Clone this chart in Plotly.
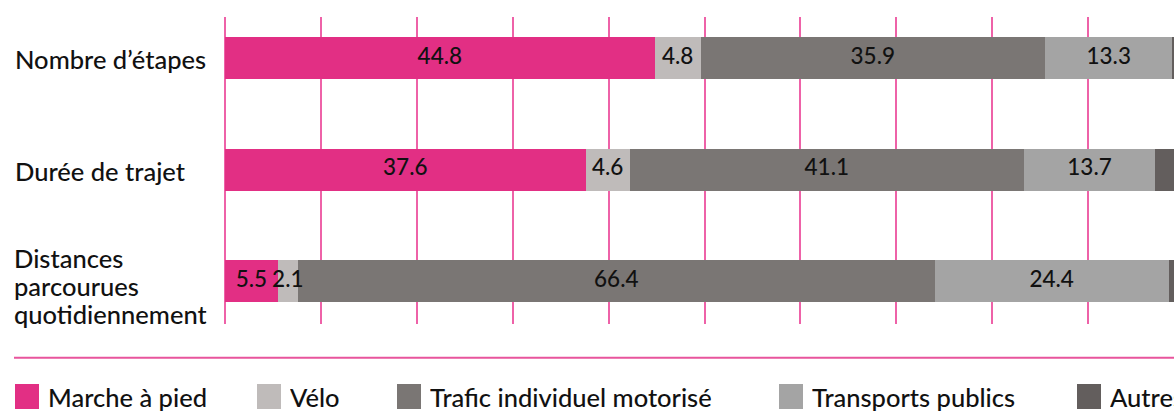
import numpy as np
import plotly.graph_objects as go

# ---- data ----
categories = ["Nombre d’étapes", "Durée de trajet", "Distances parcourues quotidiennement"]
category_labels = ["Nombre d’étapes", "Durée de trajet", "Distances<br>parcourues<br>quotidiennement"]
series_names = ["Marche à pied", "Vélo", "Trafic individuel motorisé", "Transports publics", "Autres"]
marche = [44.8, 37.6, 5.5]
velo = [4.8, 4.6, 2.1]
trafic = [35.9, 41.1, 66.4]
transports = [13.3, 13.7, 24.4]
autres = [1.2, 3.0, 1.6]
series_values = [marche, velo, trafic, transports, autres]

# ---- styles ----
colors = ["#E22F84", "#BFBBBA", "#7A7674", "#A4A4A4", "#635E5D"]
show_text = [True, True, True, True, False]
FONT = "Lato"
WEIGHT = 500
LABEL_SIZE = 25.5
W, H = 1174, 412
L, R, T, B = 225, 0, 17, 88
pw, ph = W - L - R, H - T - B


def px_x(p):
    return (p - L) / pw


def px_y(p):
    return (H - B - p) / ph


fig = go.Figure()
for name, vals, col in zip(series_names, series_values, colors):
    fig.add_trace(go.Bar(
        y=categories, x=vals, name=name, orientation="h",
        marker=dict(color=col, line=dict(width=0)),
        width=0.377,
        showlegend=False,
        cliponaxis=True,
        hovertemplate="%{y}<br>" + name + ": %{x:.1f}<extra></extra>",
    ))

# value labels drawn on top of all bars, centred in each segment
cum = np.zeros(len(categories))
for vals, st in zip(series_values, show_text):
    v = np.array(vals, dtype=float)
    mids = cum + v / 2
    cum = cum + v
    if not st:
        continue
    fig.add_trace(go.Scatter(
        x=mids, y=categories, mode="text",
        text=[f"{x:.1f}" for x in v],
        textposition="middle center",
        textfont=dict(family=FONT, size=22.5, color="#111111", weight=WEIGHT),
        showlegend=False, hoverinfo="skip", cliponaxis=True,
    ))

annotations = []
LINE_H = 28
for cat, lab in zip(categories, category_labels):
    lines = lab.split("<br>")
    n = len(lines)
    if n == 1:
        annotations.append(dict(
            x=px_x(13), xref="paper", xanchor="left",
            y=cat, yref="y", yanchor="middle", yshift=-1,
            text=lab, showarrow=False, align="left",
            font=dict(family=FONT, size=LABEL_SIZE, color="#111111", weight=WEIGHT),
        ))
        continue
    for i, line in enumerate(lines):
        off = (i - (n - 1) / 2) * LINE_H
        annotations.append(dict(
            x=px_x(13), xref="paper", xanchor="left",
            y=cat, yref="y", yanchor="middle",
            yshift=-5 - off,
            height=LINE_H, borderpad=0, valign="middle",
            text=line, showarrow=False, align="left",
            font=dict(family=FONT, size=LABEL_SIZE, color="#111111", weight=WEIGHT),
        ))

shapes = [dict(type="line", xref="paper", yref="paper",
               x0=px_x(14), x1=px_x(W + 5), y0=px_y(357.7), y1=px_y(357.7),
               line=dict(color="#E8559D", width=2))]

legend_px = [15, 257, 397, 779, 1077]
for name, col, lx in zip(series_names, colors, legend_px):
    shapes.append(dict(type="rect", xref="paper", yref="paper",
                       x0=px_x(lx), x1=px_x(lx + 24), y0=px_y(409), y1=px_y(384),
                       fillcolor=col, line=dict(width=0)))
    annotations.append(dict(
        x=px_x(lx + 31), xref="paper", xanchor="left",
        y=px_y(396), yref="paper", yanchor="middle",
        height=29, valign="middle",
        text=name, showarrow=False,
        font=dict(family=FONT, size=LABEL_SIZE, color="#111111", weight=WEIGHT),
    ))

fig.update_layout(
    barmode="stack",
    width=W, height=H,
    margin=dict(l=L, r=R, t=T, b=B, pad=0),
    paper_bgcolor="white", plot_bgcolor="white",
    hovermode="closest",
    xaxis=dict(range=[0, (W - L) / 9.59], dtick=10, tick0=0,
               showgrid=True, gridcolor="#EE62A8", gridwidth=2,
               zeroline=True, zerolinecolor="#EE62A8", zerolinewidth=2,
               showticklabels=False, showline=False, ticks=""),
    yaxis=dict(range=[2.385, -0.368], showticklabels=False, showgrid=False,
               zeroline=False, showline=False, ticks=""),
    annotations=annotations,
    shapes=shapes,
)

fig.write_html("out.html")
